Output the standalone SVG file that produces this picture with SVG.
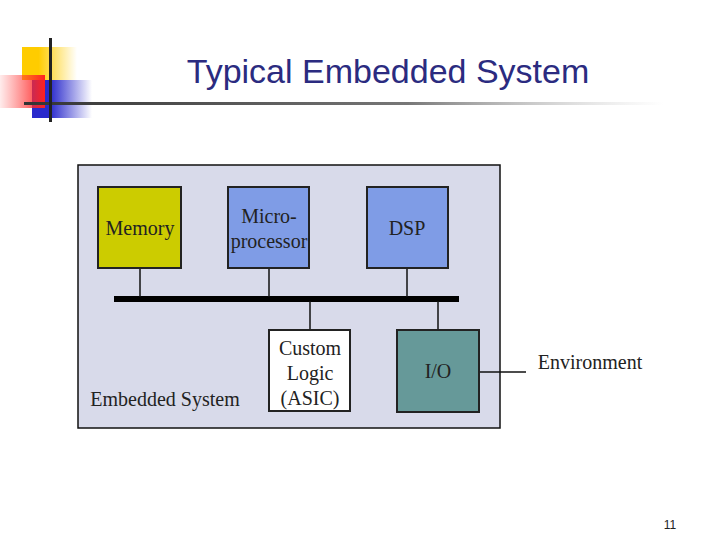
<svg xmlns="http://www.w3.org/2000/svg" width="720" height="540" viewBox="0 0 720 540">
<defs>
<linearGradient id="gy" x1="0" x2="1"><stop offset="0.3" stop-color="#ffcc00"/><stop offset="1" stop-color="#ffcc00" stop-opacity="0"/></linearGradient>
<linearGradient id="gr" x1="1" x2="0"><stop offset="0" stop-color="#ff2020"/><stop offset="1" stop-color="#ff4040" stop-opacity="0.1"/></linearGradient>
<linearGradient id="gb" x1="0" x2="1"><stop offset="0.3" stop-color="#2a2acc"/><stop offset="1" stop-color="#2a2acc" stop-opacity="0"/></linearGradient>
<linearGradient id="gl" x1="0" x2="1"><stop offset="0" stop-color="#333"/><stop offset="0.6" stop-color="#777"/><stop offset="1" stop-color="#bbb" stop-opacity="0"/></linearGradient>
<style>
.box{stroke:#222;stroke-width:2}
.t{font-family:"Liberation Serif",serif;font-size:20px;fill:#222;text-anchor:middle}
.c{stroke:#111;stroke-width:1.5}
</style>
</defs>
<rect x="22" y="47" width="55" height="33" fill="url(#gy)"/>
<rect x="32" y="80" width="60" height="38" fill="url(#gb)"/>
<rect x="0" y="75" width="45" height="33" fill="url(#gr)"/>
<rect x="24" y="102" width="640" height="3" fill="url(#gl)"/>
<rect x="49" y="38" width="3" height="84" fill="#222"/>
<text x="388" y="83" font-family="Liberation Sans,sans-serif" font-size="34" fill="#2b2b80" text-anchor="middle">Typical Embedded System</text>
<g id="system"><rect x="78" y="165" width="422" height="263" fill="#d8daea" stroke="#111" stroke-width="1.5"/>
<text x="165" y="406" class="t">Embedded System</text></g>
<g id="connectors">
<rect x="114" y="296" width="345" height="6" fill="#000"/>
<line class="c" x1="140" y1="268" x2="140" y2="297"/>
<line class="c" x1="269" y1="268" x2="269" y2="297"/>
<line class="c" x1="407" y1="268" x2="407" y2="297" stroke-width="1"/>
<line class="c" x1="310" y1="301" x2="310" y2="330" stroke-width="1"/>
<line class="c" x1="438" y1="301" x2="438" y2="330" stroke-width="1"/>
<line class="c" x1="479" y1="372" x2="526" y2="372" stroke-width="1"/>
</g>
<g id="memory"><rect class="box" x="98" y="187" width="83" height="81" fill="#cccc00"/><text class="t" x="140" y="235">Memory</text></g>
<g id="micro"><rect class="box" x="228" y="187" width="81" height="81" fill="#7f9ce6"/><text class="t" x="269" y="223">Micro-</text><text class="t" x="269" y="248">processor</text></g>
<g id="dsp"><rect class="box" x="367" y="187" width="81" height="81" fill="#7f9ce6"/><text class="t" x="407" y="235">DSP</text></g>
<g id="asic"><rect class="box" x="269" y="330" width="81" height="81" fill="#fff"/><text class="t" x="310" y="355">Custom</text><text class="t" x="310" y="380">Logic</text><text class="t" x="310" y="405">(ASIC)</text></g>
<g id="io"><rect class="box" x="397" y="330" width="82" height="82" fill="#669999"/><text class="t" x="438" y="378">I/O</text></g>
<g id="env"><text class="t" x="590" y="369">Environment</text></g>
<text x="670" y="529" font-family="Liberation Sans,sans-serif" font-size="12" fill="#222" text-anchor="middle">11</text>
</svg>
